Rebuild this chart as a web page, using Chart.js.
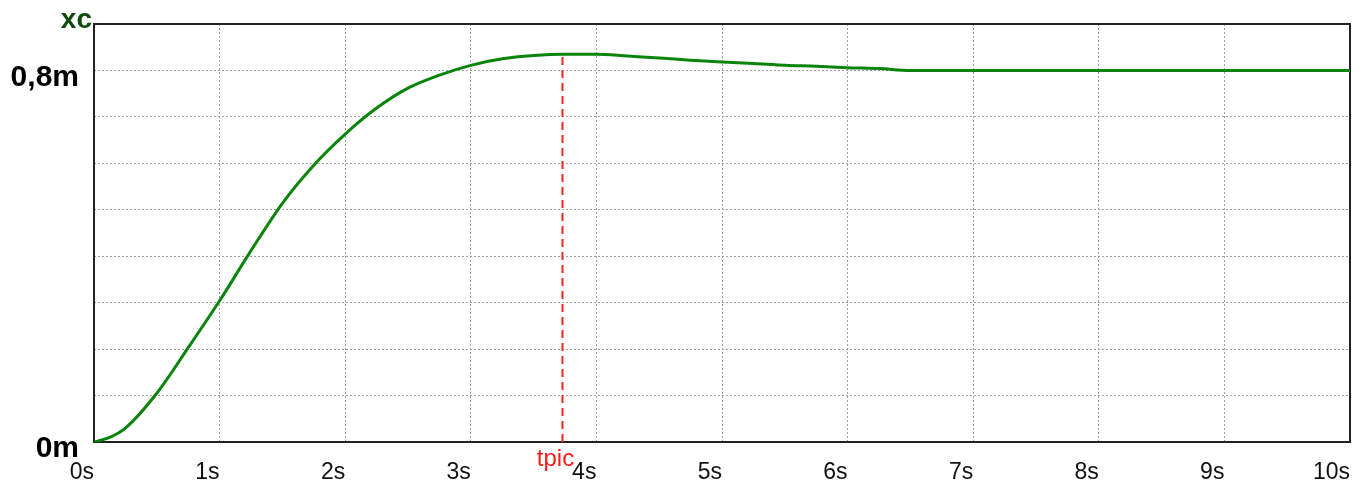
<!DOCTYPE html>
<html>
<head>
<meta charset="utf-8">
<script src="https://cdn.jsdelivr.net/npm/chart.js@4"></script>
<style>
  html, body { margin: 0; padding: 0; background: #fff; }
  #wrap { width: 1371px; height: 480px; position: relative; }
</style>
</head>
<body>
<div id="wrap"><canvas id="myChart"></canvas></div>
<script>
// step response (time in s, xc in m)
var timeS = [0, 0.125, 0.25, 0.5, 0.75, 1, 1.25, 1.5, 1.75, 2, 2.25, 2.5, 2.75, 3, 3.25, 3.5, 3.73,
  4, 4.25, 4.5, 4.75, 5, 5.25, 5.5, 5.75, 6, 6.25, 6.5, 7, 8, 9, 10];
var xcM = [0, 0.010, 0.030, 0.105, 0.203, 0.304, 0.412, 0.514, 0.596, 0.663, 0.719, 0.762, 0.790, 0.811, 0.825, 0.832, 0.835,
  0.835, 0.831, 0.827, 0.822, 0.818, 0.815, 0.811, 0.809, 0.806, 0.804, 0.800, 0.800, 0.800, 0.800, 0.800];
var tpic = 3.73;
var xcPeak = 0.835;
var xTicks = [0, 1, 2, 3, 4, 5, 6, 7, 8, 9, 10];
var yLabels = { "0": "0m", "0.8": "0,8m" };

var FONT = "'Liberation Sans', Arial, sans-serif";

var curve = timeS.map(function (t, i) { return { x: t, y: xcM[i] }; });
var marker = [{ x: tpic, y: 0 }, { x: tpic, y: xcPeak }];

function noPad(s) {
  s.paddingTop = 0; s.paddingBottom = 0; s.paddingLeft = 0; s.paddingRight = 0;
}

var extras = {
  id: "extras",
  beforeDraw: function (chart) {
    var c = chart.ctx, xs = chart.scales.x;
    c.save();
    c.fillStyle = "#ff1a1a";
    c.font = "24px " + FONT;
    c.textAlign = "center";
    c.textBaseline = "alphabetic";
    c.fillText("tpic", xs.getPixelForValue(tpic) - 7, 466);
    c.restore();
  },
  beforeDatasetsDraw: function (chart) {
    var c = chart.ctx, a = chart.chartArea;
    c.save();
    c.strokeStyle = "#222";
    c.lineWidth = 2;
    c.strokeRect(a.left, a.top, a.right - a.left, a.bottom - a.top);
    c.fillStyle = "#0b4a0b";
    c.font = "bold 28px " + FONT;
    c.textAlign = "right";
    c.textBaseline = "alphabetic";
    c.fillText("xc", a.left - 2, 28);
    c.restore();
  }
};

var ctx = document.getElementById("myChart").getContext("2d");
new Chart(ctx, {
  type: "line",
  plugins: [extras],
  data: {
    datasets: [
      {
        data: marker,
        borderColor: "#ff2020",
        borderWidth: 2,
        borderDash: [8, 5],
        pointRadius: 0,
        order: 0
      },
      {
        data: curve,
        borderColor: "#0a850a",
        borderWidth: 3,
        pointRadius: 0,
        cubicInterpolationMode: "monotone",
        order: 1
      }
    ]
  },
  options: {
    responsive: true,
    maintainAspectRatio: false,
    animation: false,
    layout: { padding: { left: 0, right: 21, top: 24, bottom: 0 } },
    plugins: {
      legend: { display: false },
      tooltip: { enabled: false }
    },
    scales: {
      x: {
        type: "linear",
        min: 0,
        max: 10,
        afterFit: function (s) { s.height = 38; noPad(s); },
        afterBuildTicks: function (s) { s.ticks = xTicks.map(function (v) { return { value: v }; }); },
        border: { display: false, dash: [2, 2] },
        grid: { color: "#a0a0a0", drawTicks: false },
        ticks: {
          align: "end",
          padding: 17,
          color: "#111",
          maxRotation: 0,
          autoSkip: false,
          font: { family: FONT, size: 23 },
          callback: function (v) { return v + "s"; }
        }
      },
      y: {
        min: 0,
        max: 0.9,
        afterFit: function (s) { s.width = 94; noPad(s); },
        border: { display: false, dash: [2, 2] },
        grid: { color: "#a0a0a0", drawTicks: false },
        ticks: {
          stepSize: 0.1,
          padding: 15,
          labelOffset: 7,
          color: "#000",
          autoSkip: false,
          font: { family: FONT, size: 30, weight: "bold" },
          callback: function (v) {
            var k = String(Math.round(v * 10) / 10);
            return yLabels[k] || "";
          }
        }
      }
    }
  }
});
</script>
</body>
</html>
